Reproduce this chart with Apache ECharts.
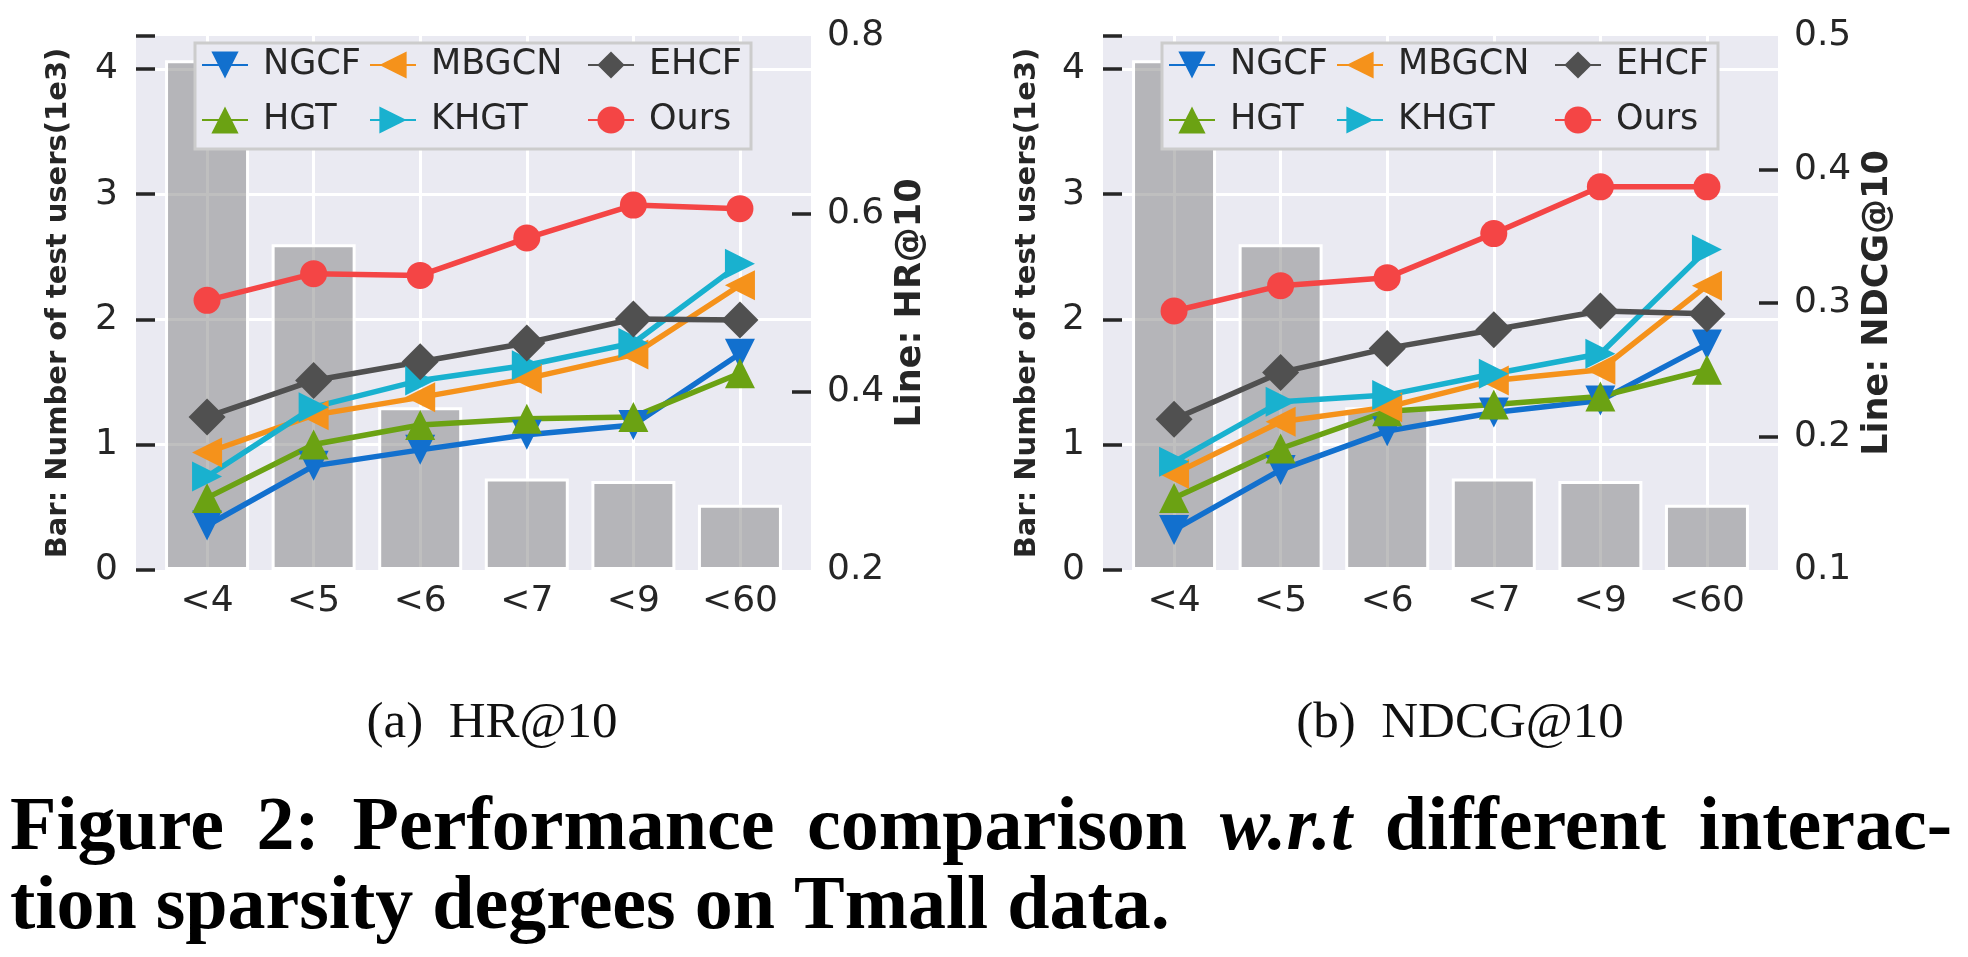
<!DOCTYPE html>
<html><head><meta charset="utf-8">
<script src="https://cdn.jsdelivr.net/npm/echarts@6/dist/echarts.min.js"></script>
<style>html,body{margin:0;padding:0;background:#fff}#c{width:1968px;height:957px}</style>
</head><body><div id="c"></div>
<script>
// ---------------- data ----------------
const categories = ['<4', '<5', '<6', '<7', '<9', '<60'];
const testUsers = [4.07, 2.60, 1.30, 0.73, 0.71, 0.52];   // bar, in 1e3

const hrNGCF  = [0.250, 0.317, 0.335, 0.352, 0.363, 0.443];
const hrHGT   = [0.281, 0.341, 0.363, 0.370, 0.372, 0.421];
const hrMBGCN = [0.332, 0.374, 0.394, 0.415, 0.442, 0.520];
const hrKHGT  = [0.305, 0.383, 0.413, 0.430, 0.455, 0.544];
const hrEHCF  = [0.372, 0.413, 0.434, 0.455, 0.482, 0.481];
const hrOurs  = [0.503, 0.533, 0.531, 0.573, 0.610, 0.606];

const ndNGCF  = [0.130, 0.175, 0.204, 0.218, 0.227, 0.269];
const ndHGT   = [0.154, 0.191, 0.219, 0.224, 0.230, 0.250];
const ndMBGCN = [0.172, 0.211, 0.222, 0.242, 0.250, 0.313];
const ndKHGT  = [0.181, 0.226, 0.231, 0.247, 0.262, 0.340];
const ndEHCF  = [0.213, 0.248, 0.266, 0.280, 0.294, 0.292];
const ndOurs  = [0.294, 0.313, 0.319, 0.352, 0.387, 0.387];

const methods = ['NGCF', 'HGT', 'MBGCN', 'KHGT', 'EHCF', 'Ours'];
const barTicks = [0, 1, 2, 3, 4];
const hrTicks = [0.2, 0.4, 0.6, 0.8];
const ndcgTicks = [0.1, 0.2, 0.3, 0.4, 0.5];
const barAxisMax = 4.263;

// ---------------- styles ----------------
const TXT = '#262626';
const BG = '#EAEAF2';
const SANS = 'DejaVu Sans';
const SERIF = 'Liberation Serif';
const styleMap = {
  NGCF:  {color: '#1270CE', symbol: 'triangle', rotate: 180, size: 30},
  HGT:   {color: '#6BA213', symbol: 'triangle', rotate: 0,   size: 30},
  MBGCN: {color: '#F5921B', symbol: 'triangle', rotate: 90,  size: 30},
  KHGT:  {color: '#19B1CF', symbol: 'triangle', rotate: -90, size: 30},
  EHCF:  {color: '#505050', symbol: 'diamond',  rotate: 0,   size: 37},
  Ours:  {color: '#F44545', symbol: 'circle',   rotate: 0,   size: 27}
};

const panels = [
  {gridLeft: 136, ticks: hrTicks, rightName: 'Line: HR@10', sub: '(a)  HR@10', subX: 492, leftGap: 63, rightGap: 82,
   values: {NGCF: hrNGCF, HGT: hrHGT, MBGCN: hrMBGCN, KHGT: hrKHGT, EHCF: hrEHCF, Ours: hrOurs}},
  {gridLeft: 1103, ticks: ndcgTicks, rightName: 'Line: NDCG@10', sub: '(b)  NDCG@10', subX: 1460, leftGap: 61, rightGap: 82,
   values: {NGCF: ndNGCF, HGT: ndHGT, MBGCN: ndMBGCN, KHGT: ndKHGT, EHCF: ndEHCF, Ours: ndOurs}}
];

const chart = echarts.init(document.getElementById('c'), null, {renderer: 'canvas'});
const option = {
  animation: false, backgroundColor: '#fff',
  textStyle: {fontFamily: SANS},
  grid: [], xAxis: [], yAxis: [], series: [], legend: [], graphic: []
};

const r4 = v => Math.round(v * 1e4) / 1e4;
const X_MIN = -2 / 3;
const X_MAX = categories.length - 1 - X_MIN;
const TICK_LEN = 0.18; // inward tick length (~19px) in x-axis units

panels.forEach((p, k) => {
  const dx = p.gridLeft - 136;
  option.grid.push({left: p.gridLeft, top: 36, width: 675, height: 534, show: true,
    backgroundColor: BG, borderWidth: 0});
  option.xAxis.push({
    type: 'value', gridIndex: k, min: X_MIN, max: X_MAX,
    axisLine: {show: false, onZero: false}, axisTick: {show: false}, splitLine: {show: false},
    axisLabel: {customValues: categories.map((_, i) => i), formatter: v => categories[Math.round(v)],
      fontSize: 36, color: TXT, margin: 14, fontFamily: SANS}
  });
  option.yAxis.push({
    type: 'value', gridIndex: k, position: 'left', min: barTicks[0], max: barAxisMax, interval: 1, z: 10,
    name: 'Bar: Number of test users(1e3)', nameLocation: 'middle', nameGap: p.leftGap, nameRotate: 90,
    nameTextStyle: {fontSize: 29, fontWeight: 'bold', color: TXT, fontFamily: SANS},
    axisLine: {show: false, onZero: false},
    axisTick: {show: true, inside: true, length: 19, lineStyle: {color: TXT, width: 3.5}},
    axisLabel: {customValues: barTicks, fontSize: 36, color: TXT, margin: 18, fontFamily: SANS},
    splitLine: {show: false}
  });
  const t = p.ticks;
  option.yAxis.push({
    type: 'value', gridIndex: k, position: 'right', min: t[0], max: t[t.length - 1], interval: r4(t[1] - t[0]), z: 10,
    name: p.rightName, nameLocation: 'middle', nameGap: p.rightGap, nameRotate: 90,
    nameTextStyle: {fontSize: 35, fontWeight: 'bold', color: TXT, fontFamily: SANS},
    axisLine: {show: false, onZero: false},
    axisTick: {show: true, inside: true, length: 19, customValues: t.slice(1, -1), lineStyle: {color: TXT, width: 3.5}},
    axisLabel: {fontSize: 36, color: TXT, margin: 16, fontFamily: SANS},
    splitLine: {show: false}
  });
  const yL = 2 * k, yR = 2 * k + 1;
  // white grid lines beneath the bars: vertical at categories, horizontal at bar-axis ticks
  const vLines = categories.map((_, i) => ({xAxis: i}));
  const hLines = barTicks.slice(1).map(v => [{coord: [X_MIN + TICK_LEN, v]}, {coord: [X_MAX, v]}]);
  option.series.push({
    type: 'line', name: '_grid' + k, xAxisIndex: k, yAxisIndex: yL, z: 1, silent: true,
    data: categories.map((_, i) => [i, 0]), symbol: 'none', lineStyle: {opacity: 0},
    markLine: {z: 1, zlevel: 0, silent: true, symbol: ['none', 'none'], label: {show: false}, animation: false,
      lineStyle: {color: '#fff', width: 3, type: 'solid'},
      emphasis: {disabled: true},
      data: vLines.concat(hLines)}
  });
  option.series.push({
    type: 'bar', name: '_bar' + k, xAxisIndex: k, yAxisIndex: yL, z: 2, barWidth: 84,
    data: testUsers.map((v, i) => [i, v]),
    itemStyle: {color: 'rgba(128,128,128,0.5)', borderColor: '#fff', borderWidth: 3},
    emphasis: {disabled: true}, silent: true
  });
  methods.forEach((m, j) => {
    const s = styleMap[m];
    option.series.push({
      type: 'line', name: m, xAxisIndex: k, yAxisIndex: yR, z: 3,
      data: p.values[m].map((v, i) => [i, v]),
      symbol: s.symbol, symbolSize: s.size, symbolRotate: s.rotate,
      itemStyle: {color: s.color, opacity: 1},
      lineStyle: {color: s.color, width: 5.5},
      emphasis: {disabled: true}, silent: true
    });
    const colX = [201, 369, 587][Math.floor(j / 2)] + dx;
    const rowY = [65, 120][j % 2];
    option.legend.push({
      data: [m], left: colX, top: rowY - 20, padding: 0, itemGap: 0,
      itemWidth: 46, itemHeight: 34, selectedMode: false, z: 7,
      textStyle: {fontSize: 35, color: TXT, fontFamily: SANS, lineHeight: 40, padding: [0, 0, 0, 10]}
    });
  });
  option.graphic.push({
    type: 'rect', z: 6, silent: true,
    shape: {x: 195 + dx, y: 43, width: 556, height: 106},
    style: {fill: BG, stroke: '#CCCCCC', lineWidth: 3}
  });
  option.graphic.push({
    type: 'text', z: 5, silent: true, x: p.subX, y: 724,
    style: {text: p.sub, font: '51px "' + SERIF + '"', fill: '#111', align: 'center', verticalAlign: 'middle',
      textAlign: 'center', textVerticalAlign: 'middle'}
  });
});

// caption, line 1 justified between x=10 and x=1952
const capFont = 'bold 76px "' + SERIF + '"';
const capFontIt = 'italic bold 76px "' + SERIF + '"';
const line1 = [['Figure', 0], ['2:', 0], ['Performance', 0], ['comparison', 0], ['w.r.t', 1], ['different', 0], ['interac-', 0]];
const line2 = 'tion sparsity degrees on Tmall data.';
const ctx = document.createElement('canvas').getContext('2d');
const widths = line1.map(([w, it]) => { ctx.font = it ? capFontIt : capFont; return ctx.measureText(w).width; });
const total = widths.reduce((a, b) => a + b, 0);
const gap = (1952 - 10 - total) / (line1.length - 1);
let cx = 10;
line1.forEach(([w, it], i) => {
  option.graphic.push({type: 'text', silent: true, x: cx, y: 829,
    style: {text: w, font: it ? capFontIt : capFont, fill: '#000', align: 'left', verticalAlign: 'middle',
      textAlign: 'left', textVerticalAlign: 'middle'}});
  cx += widths[i] + gap;
});
option.graphic.push({type: 'text', silent: true, x: 10, y: 908,
  style: {text: line2, font: capFont, fill: '#000', align: 'left', verticalAlign: 'middle',
    textAlign: 'left', textVerticalAlign: 'middle'}});

chart.setOption(option);
</script></body></html>
